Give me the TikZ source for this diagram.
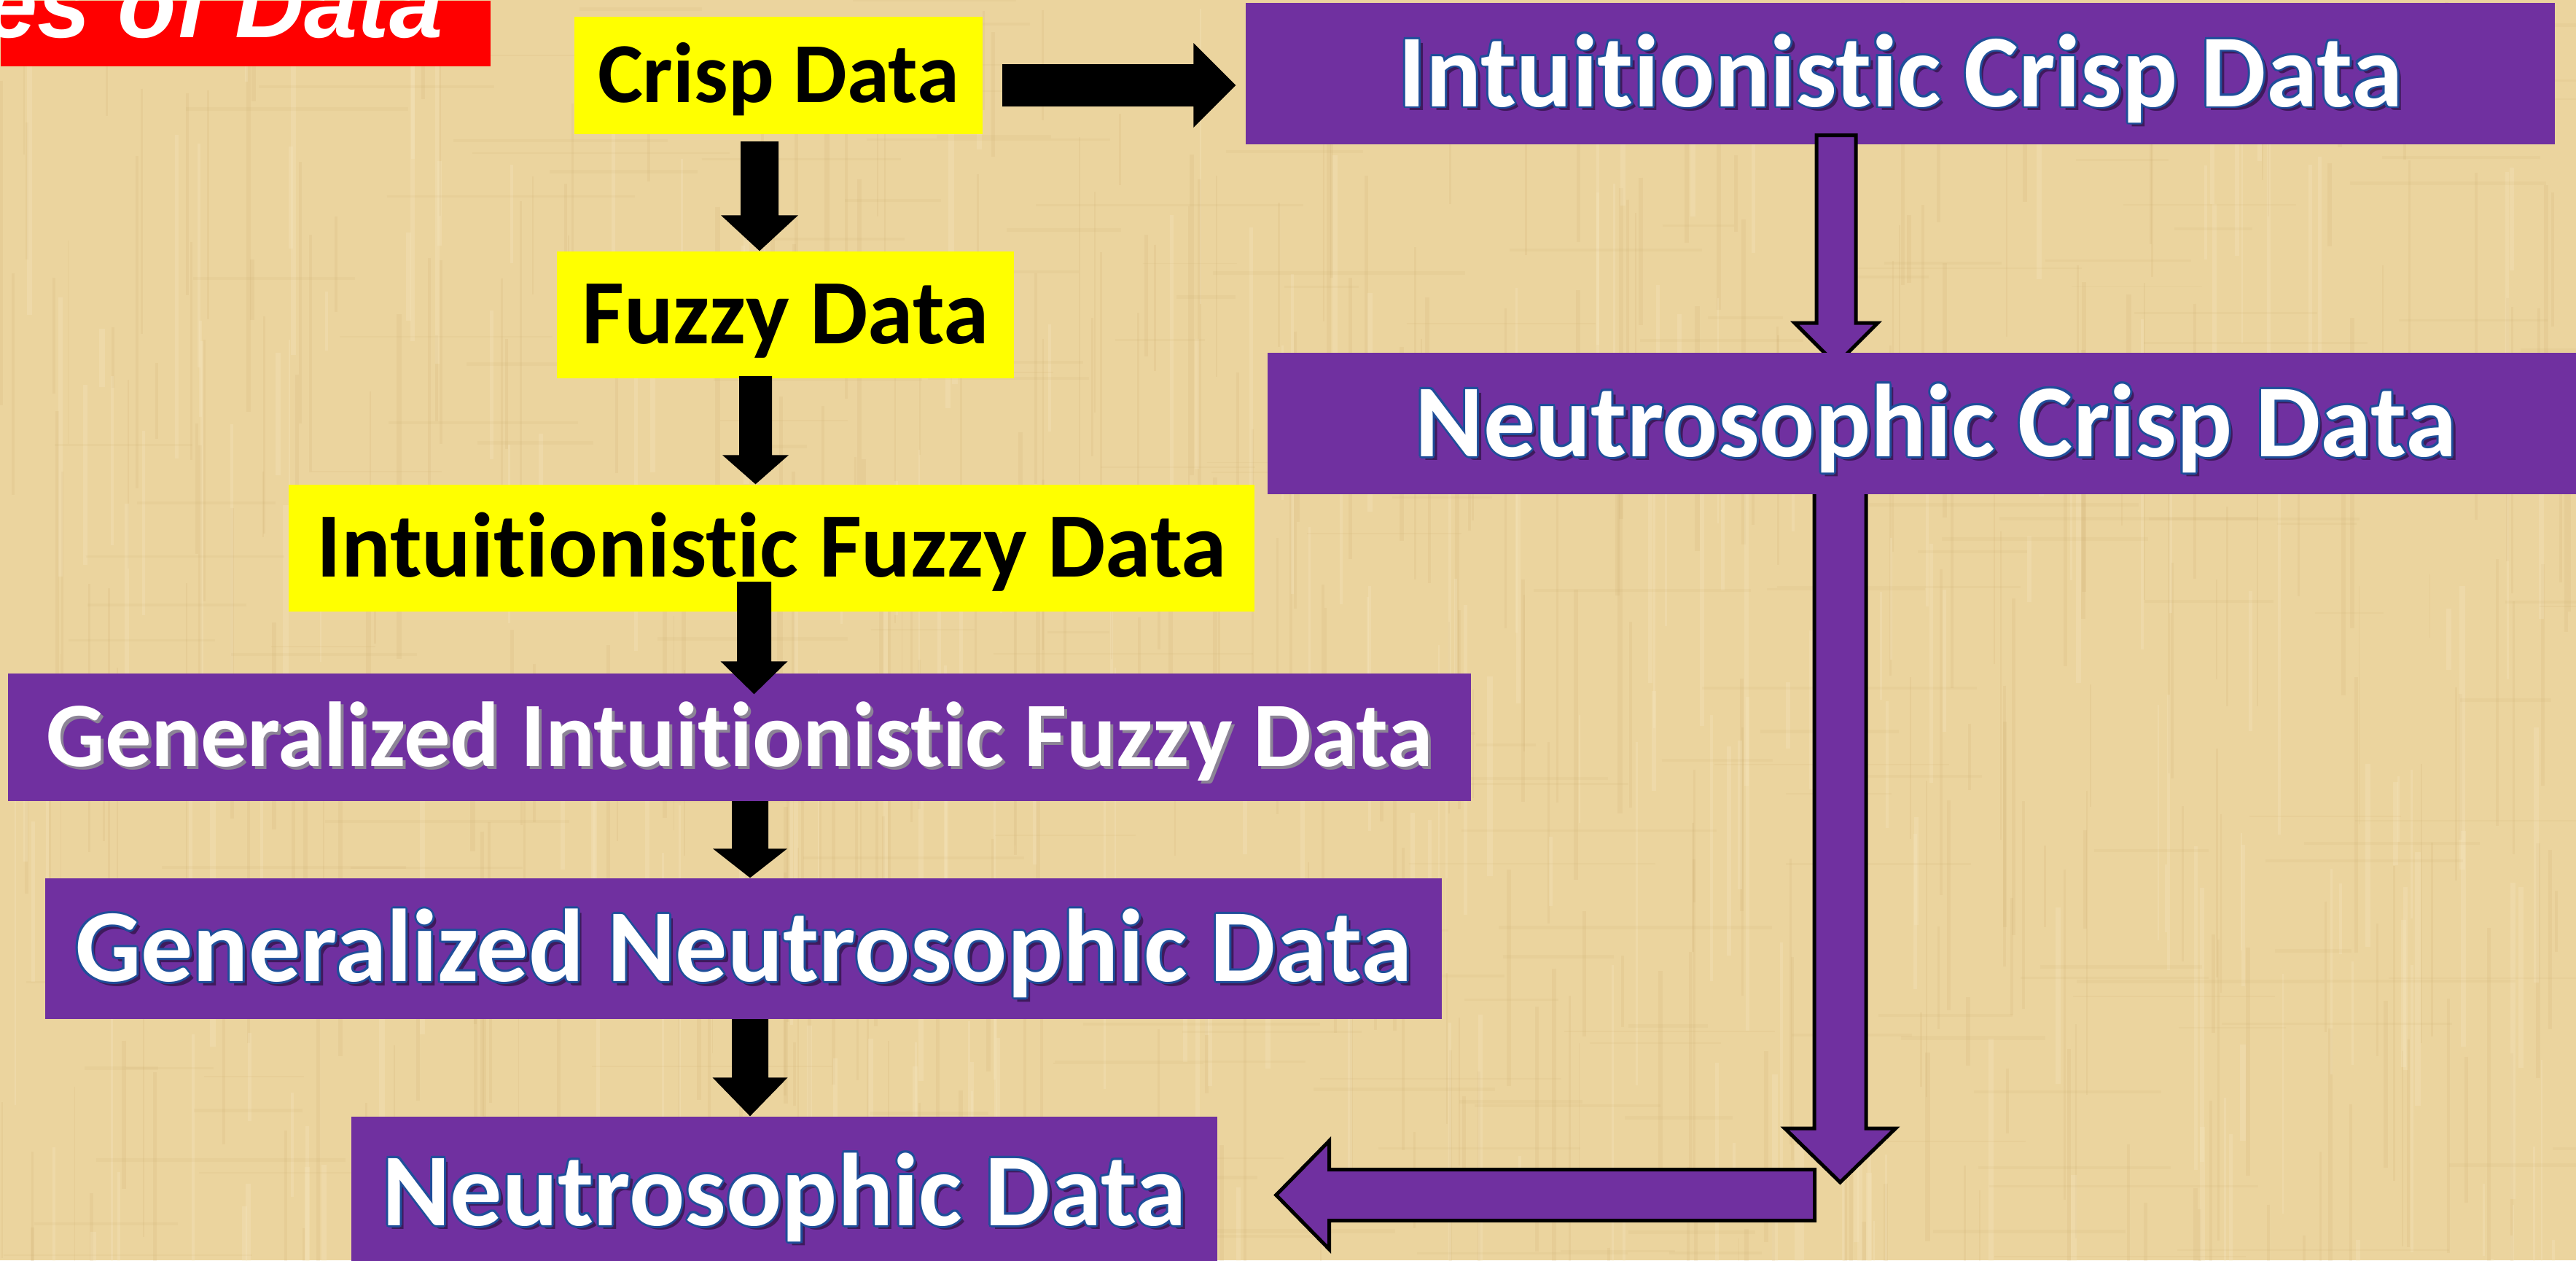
\documentclass[tikz,border=0pt]{standalone}
\usepackage{fontspec}
\setmainfont{Carlito}[Ligatures={NoCommon,TeX}]
\newfontfamily\titlefont{Liberation Sans}
\usetikzlibrary{calc}

\definecolor{paper}{HTML}{EBD49E}
\definecolor{paperdark}{HTML}{C4A264}
\definecolor{paperlight}{HTML}{F8EBC6}
\definecolor{boxpurple}{HTML}{7030A0}
\definecolor{boxyellow}{HTML}{FFFF00}
\definecolor{titlered}{HTML}{FF0000}
\definecolor{olblue}{HTML}{1F4E9A}
\definecolor{shade}{HTML}{3E1A5C}
\definecolor{greyshade}{HTML}{8C8496}

% white lettering with a thin blue outline and a dark drop shadow
\newcommand\olt[1]{%
  \rlap{\color{shade}\hspace{0.055cm}\raisebox{-0.055cm}{#1}}%
  \rlap{\color{olblue}\hspace{-0.03cm}#1}%
  \rlap{\color{olblue}\hspace{0.03cm}#1}%
  \rlap{\color{olblue}\raisebox{0.03cm}{#1}}%
  \rlap{\color{olblue}\raisebox{-0.03cm}{#1}}%
  \rlap{\color{olblue}\hspace{-0.021cm}\raisebox{0.021cm}{#1}}%
  \rlap{\color{olblue}\hspace{0.021cm}\raisebox{0.021cm}{#1}}%
  \rlap{\color{olblue}\hspace{-0.021cm}\raisebox{-0.021cm}{#1}}%
  \rlap{\color{olblue}\hspace{0.021cm}\raisebox{-0.021cm}{#1}}%
  {\color{white}#1}}
% white lettering with a soft grey shadow only
\newcommand\shadowtext[1]{%
  \rlap{\color{greyshade}\hspace{0.04cm}\raisebox{-0.04cm}{#1}}%
  {\color{white}#1}}

% downward block arrow: start, tip, half shaft, half head, head length, style
\newcommand\vblock[6]{\path[#6] let \p1=(#1), \p2=(#2) in
  (\x1-#3,\y1) -- (\x1-#3,\y2+#5) -- (\x1-#4,\y2+#5) -- (\x1,\y2)
  -- (\x1+#4,\y2+#5) -- (\x1+#3,\y2+#5) -- (\x1+#3,\y1) -- cycle;}
% horizontal block arrow: start, tip, half shaft, half head, signed head length, style
\newcommand\hblock[6]{\path[#6] let \p1=(#1), \p2=(#2) in
  (\x1,\y1-#3) -- (\x2+#5,\y1-#3) -- (\x2+#5,\y1-#4) -- (\x2,\y1)
  -- (\x2+#5,\y1+#4) -- (\x2+#5,\y1+#3) -- (\x1,\y1+#3) -- cycle;}

\tikzset{
  solidarrow/.style={fill=black},
  hollowarrow/.style={fill=boxpurple, draw=black, line width=0.05cm, line join=miter},
  yellowbox/.style={rectangle, fill=boxyellow, inner sep=0pt, text=black,
    text height=0.79cm, text depth=0pt, font=\bfseries\fontsize{35.9}{40}\selectfont},
  purplebox/.style={rectangle, fill=boxpurple, inner sep=0pt,
    text height=0.90cm, text depth=0pt, font=\bfseries\fontsize{40.4}{46}\selectfont},
}

\begin{document}
\begin{tikzpicture}
\useasboundingbox (0,0) rectangle (35.34,-17.29);
\clip (0,0) rectangle (35.34,-17.29);

% papyrus background
\fill[paper] (0,0) rectangle (35.34,-17.29);
\pgfmathsetseed{11}
\foreach \i in {1,...,420}{
  \pgfmathsetmacro\xx{rnd*35.34}
  \pgfmathsetmacro\yy{-rnd*17.29}
  \pgfmathsetmacro\ll{0.8+rnd*4}
  \pgfmathsetmacro\ww{0.015+rnd*0.05}
  \draw[line width=\ww cm, draw=paperdark, opacity=0.12] (\xx,\yy) -- ++(0,-\ll);
}
\foreach \i in {1,...,260}{
  \pgfmathsetmacro\xx{rnd*35.34}
  \pgfmathsetmacro\yy{-rnd*17.29}
  \pgfmathsetmacro\ll{0.8+rnd*4}
  \pgfmathsetmacro\ww{0.02+rnd*0.06}
  \draw[line width=\ww cm, draw=paperlight, opacity=0.25] (\xx,\yy) -- ++(0,-\ll);
}
\foreach \i in {1,...,240}{
  \pgfmathsetmacro\xx{rnd*35.34}
  \pgfmathsetmacro\yy{-rnd*17.29}
  \pgfmathsetmacro\ll{0.8+rnd*3}
  \pgfmathsetmacro\ww{0.015+rnd*0.04}
  \draw[line width=\ww cm, draw=paperdark, opacity=0.09] (\xx,\yy) -- ++(\ll,0);
}

% title bar
\node[fill=titlered, minimum width=6.72cm, minimum height=0.90cm, inner sep=0pt,
  anchor=north west] (titlebar) at (0,0) {};
\node[anchor=base east, inner sep=0pt, text=white,
  font=\titlefont\bfseries\itshape\fontsize{37.5}{40}\selectfont] (title) at (6.09,-0.51) {Types of Data};

% right-hand column
\node[purplebox, minimum width=17.96cm, minimum height=1.94cm] (icd) at (26.07,-1.01)
  {\olt{Intuitionistic Crisp Data}};

\coordinate (p1) at (25.19,-1.855);
\coordinate (p1t) at (25.19,-5.00);
\vblock{p1}{p1t}{0.27cm}{0.57cm}{0.57cm}{hollowarrow}

\coordinate (p2) at (25.245,-6.70);
\coordinate (p2t) at (25.245,-16.22);
\vblock{p2}{p2t}{0.355cm}{0.76cm}{0.74cm}{hollowarrow}

\node[purplebox, minimum width=18.34cm, minimum height=1.94cm] (ncd) at (26.56,-5.81)
  {\olt{Neutrosophic Crisp Data}};

% left-hand column
\node[yellowbox, minimum width=5.60cm, minimum height=1.61cm,
  font=\bfseries\fontsize{33.3}{38}\selectfont, text height=0.74cm] (crisp) at (10.68,-1.035) {Crisp Data};
\node[yellowbox, minimum width=6.27cm, minimum height=1.74cm] (fuzzy) at (10.775,-4.32) {Fuzzy Data};
\node[yellowbox, minimum width=13.25cm, minimum height=1.74cm] (ifd) at (10.585,-7.52) {Intuitionistic Fuzzy Data};
\node[purplebox, minimum width=20.07cm, minimum height=1.75cm,
  font=\bfseries\fontsize{36}{42}\selectfont, text height=0.80cm] (gifd) at (10.145,-10.115)
  {\shadowtext{Generalized Intuitionistic Fuzzy Data}};
\node[purplebox, minimum width=19.16cm, minimum height=1.93cm] (gnd) at (10.20,-13.015)
  {\olt{Generalized Neutrosophic Data}};
\node[purplebox, minimum width=11.88cm, minimum height=2.08cm] (nd) at (10.76,-16.36)
  {\olt{Neutrosophic Data}};

% arrow from the right column back into the last box
\coordinate (p3) at (24.895,-16.395);
\coordinate (p3t) at ($(nd.east |- p3)+(0.80,0)$);
\hblock{p3}{p3t}{0.35cm}{0.745cm}{0.73cm}{hollowarrow}

% solid arrows of the left column
\coordinate (k1) at (10.42,-1.94);
\vblock{k1}{fuzzy.north -| k1}{0.26cm}{0.53cm}{0.49cm}{solidarrow}

\coordinate (k2) at (10.365,-5.16);
\vblock{k2}{ifd.north -| k2}{0.225cm}{0.455cm}{0.40cm}{solidarrow}

\coordinate (k3) at (10.345,-7.98);
\coordinate (k3t) at ($(gifd.north -| k3)+(0,-0.29)$);
\vblock{k3}{k3t}{0.235cm}{0.46cm}{0.45cm}{solidarrow}

\coordinate (k4) at (10.29,-10.99);
\vblock{k4}{gnd.north -| k4}{0.25cm}{0.51cm}{0.40cm}{solidarrow}

\coordinate (k5) at (10.29,-13.98);
\vblock{k5}{nd.north -| k5}{0.25cm}{0.515cm}{0.53cm}{solidarrow}

\coordinate (k6) at (13.75,-1.17);
\coordinate (k6t) at ($(icd.west |- k6)+(-0.13,0)$);
\hblock{k6}{k6t}{0.29cm}{0.58cm}{-0.58cm}{solidarrow}
\end{tikzpicture}
\end{document}
